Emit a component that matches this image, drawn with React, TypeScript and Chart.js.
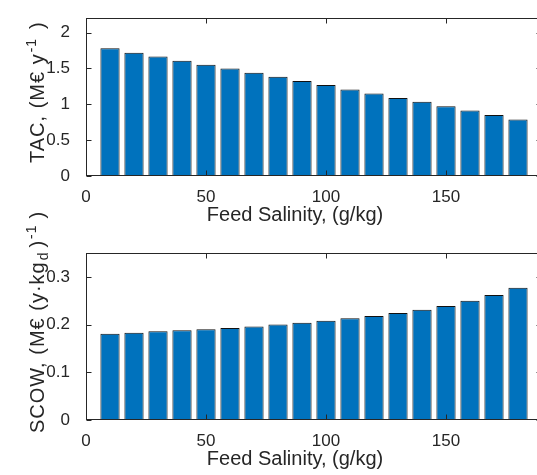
import React, { useEffect, useRef } from 'react';
import { Chart, registerables } from 'chart.js';

Chart.register(...registerables);

// ---- data ----
const salinity = [10, 20, 30, 40, 50, 60, 70, 80, 90, 100, 110, 120, 130, 140, 150, 160, 170, 180];
const tacValues = [1.78, 1.72, 1.665, 1.608, 1.551, 1.498, 1.44, 1.383, 1.326, 1.269, 1.207, 1.15, 1.088, 1.035, 0.974, 0.912, 0.851, 0.789];
const scowValues = [0.181, 0.183, 0.186, 0.188, 0.19, 0.193, 0.196, 0.2, 0.204, 0.208, 0.213, 0.218, 0.224, 0.231, 0.239, 0.25, 0.262, 0.277];
const xTicks = [0, 50, 100, 150];
const tacTicks = [0, 0.5, 1, 1.5, 2];
const scowTicks = [0, 0.1, 0.2, 0.3];
const xTitle = 'Feed Salinity, (g/kg)';
type Seg = { t: string; mode?: 'sup' | 'sub'; gap?: number };
const tacTitle: Seg[] = [{ t: 'TAC, (M€ y' }, { t: '-1', mode: 'sup', gap: 1 }, { t: ')', gap: 9 }];
const scowTitle: Seg[] = [
  { t: 'SCOW, (M€ (y·kg' },
  { t: 'd', mode: 'sub', gap: 1 },
  { t: ')', gap: 4 },
  { t: '-1', mode: 'sup', gap: 1 },
  { t: ')', gap: 6 },
];

const W = 545;
const H = 475;
const FONT = "'Liberation Sans', Arial, Helvetica, sans-serif";
const TICK_SIZE = 17;
const LABEL_SIZE = 20;
const AX = '#262626';
const BAR = '#0072BD';

function makePlugin(yTitle: Seg[], titleStart: number, xTicksArr: number[], yTicksArr: number[]) {
  return {
    id: 'matlabAxes',
    afterDraw(chart: any) {
      const ctx: any = chart.ctx;
      const a = chart.chartArea;
      const xs = chart.scales.x;
      const ys = chart.scales.y;
      const L = Math.round(a.left) + 0.5;
      const R = Math.round(a.right) - 0.5;
      const T = Math.round(a.top) + 0.5;
      const B = Math.round(a.bottom) - 0.5;
      ctx.save();
      ctx.strokeStyle = AX;
      ctx.lineWidth = 1;
      ctx.strokeRect(L, T, R - L, B - T);
      const tl = 5;
      ctx.beginPath();
      xTicksArr.forEach((v) => {
        const px = Math.round(xs.getPixelForValue(v)) + 0.5;
        ctx.moveTo(px, B);
        ctx.lineTo(px, B - tl);
        ctx.moveTo(px, T);
        ctx.lineTo(px, T + tl);
      });
      yTicksArr.forEach((v) => {
        const py = Math.round(ys.getPixelForValue(v)) + 0.5;
        ctx.moveTo(L, py);
        ctx.lineTo(L + tl, py);
        ctx.moveTo(R, py);
        ctx.lineTo(R - tl, py);
      });
      ctx.stroke();

      // x title
      ctx.fillStyle = AX;
      ctx.font = `${LABEL_SIZE}px ${FONT}`;
      ctx.textAlign = 'center';
      ctx.textBaseline = 'alphabetic';
      ctx.fillText(xTitle, 295, a.bottom + 45);

      // y title (rotated, rich text)
      ctx.letterSpacing = '1px';
      const small = LABEL_SIZE * 0.7;
      ctx.translate(44, titleStart);
      ctx.rotate(-Math.PI / 2);
      ctx.textAlign = 'left';
      let pos = 0;
      yTitle.forEach((s) => {
        ctx.font = `${s.mode ? small : LABEL_SIZE}px ${FONT}`;
        const dy = s.mode === 'sup' ? -8 : s.mode === 'sub' ? 4 : 0;
        pos += s.gap || 0;
        ctx.fillText(s.t, pos, dy);
        pos += ctx.measureText(s.t).width;
      });
      ctx.restore();
    },
  };
}

function buildConfig(values: number[], yMax: number, yTicksArr: number[], yTitle: Seg[], titleStart: number, top: number, bottom: number): any {
  return {
    type: 'bar',
    data: {
      datasets: [
        {
          data: salinity.map((x, i) => ({ x, y: values[i] })),
          backgroundColor: BAR,
          borderColor: '#111111',
          borderWidth: 1,
          borderSkipped: false,
          barPercentage: 0.8,
          categoryPercentage: 1,
        },
      ],
    },
    options: {
      responsive: false,
      animation: false,
      devicePixelRatio: 1,
      layout: { padding: { top, left: 0, right: W - 542, bottom: 0 } },
      plugins: { legend: { display: false }, tooltip: { enabled: false }, title: { display: false } },
      scales: {
        x: {
          type: 'linear',
          min: 0,
          max: 190,
          offset: false,
          grid: { display: false },
          border: { display: false },
          afterBuildTicks: (s: any) => {
            s.ticks = xTicks.map((v) => ({ value: v }));
          },
          afterFit: (s: any) => {
            s.height = H - bottom;
          },
          ticks: {
            color: AX,
            font: { family: FONT, size: TICK_SIZE },
            padding: 3,
            maxRotation: 0,
            autoSkip: false,
            callback: (v: any) => String(v),
          },
        },
        y: {
          type: 'linear',
          min: 0,
          max: yMax,
          grid: { display: false },
          border: { display: false },
          afterBuildTicks: (s: any) => {
            s.ticks = yTicksArr.map((v) => ({ value: v }));
          },
          afterFit: (s: any) => {
            s.width = 86;
          },
          ticks: {
            color: AX,
            font: { family: FONT, size: TICK_SIZE },
            padding: 8,
            autoSkip: false,
            callback: (v: any) => String(v),
          },
        },
      },
    },
    plugins: [makePlugin(yTitle, titleStart, xTicks, yTicksArr)],
  };
}

export default function App() {
  const topRef = useRef<HTMLCanvasElement>(null);
  const botRef = useRef<HTMLCanvasElement>(null);

  useEffect(() => {
    const c1 = new Chart(topRef.current!, buildConfig(tacValues, 2.2, tacTicks, tacTitle, 163, 9, 176));
    const c2 = new Chart(botRef.current!, buildConfig(scowValues, 0.35, scowTicks, scowTitle, 433, 253, 420));
    return () => {
      c1.destroy();
      c2.destroy();
    };
  }, []);

  const canvasStyle: React.CSSProperties = { position: 'absolute', left: 0, top: 0, width: W, height: H };
  return (
    <div style={{ position: 'fixed', left: 0, top: 0, width: 537, height: 475, overflow: 'hidden', background: '#fff' }}>
      <canvas ref={topRef} width={W} height={H} style={canvasStyle} />
      <canvas ref={botRef} width={W} height={H} style={canvasStyle} />
    </div>
  );
}
